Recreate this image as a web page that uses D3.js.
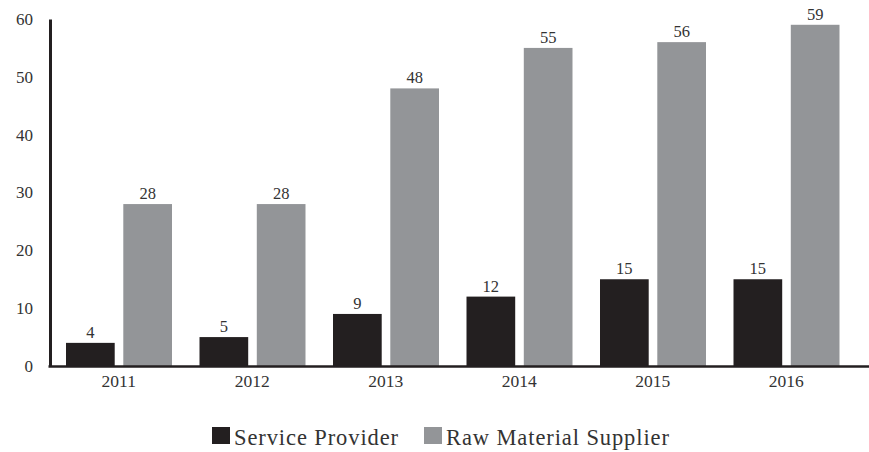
<!DOCTYPE html>
<html><head><meta charset="utf-8">
<script src="https://cdn.jsdelivr.net/npm/d3@7/dist/d3.min.js"></script>
<style>body{margin:0;background:#fff}</style>
</head><body><svg id="c" width="869" height="452"></svg>
<script>
const years = ["2011","2012","2013","2014","2015","2016"];
const seriesNames = ["Service Provider","Raw Material Supplier"];
const serviceProvider = [4,5,9,12,15,15];
const rawMaterialSupplier = [28,28,48,55,56,59];
const yTicks = [0,10,20,30,40,50,60];
const colors = ["#231f20","#939598"];
const FONT = "Liberation Serif";
const TXT = "#333333";

const svg = d3.select("#c");
const x0 = d3.scaleBand().domain(years).range([52,853]).paddingInner(0).paddingOuter(0);
const x1 = d3.scaleBand().domain(seriesNames).range([14,120]).paddingInner(0.15);
const y = d3.scaleLinear().domain([0,60]).range([366,19]);

const data = years.map((yr,i)=>({year:yr, vals:[serviceProvider[i], rawMaterialSupplier[i]]}));

const g = svg.append("g");
const grp = g.selectAll("g.grp").data(data).join("g").attr("transform",d=>`translate(${x0(d.year)},0)`);
grp.selectAll("rect").data(d=>d.vals.map((v,k)=>({k,v}))).join("rect")
  .attr("x",d=>x1(seriesNames[d.k])).attr("width",x1.bandwidth())
  .attr("y",d=>y(d.v)).attr("height",d=>y(0)-y(d.v)).attr("fill",d=>colors[d.k]);
grp.selectAll("text.v").data(d=>d.vals.map((v,k)=>({k,v}))).join("text").attr("class","v")
  .attr("x",d=>x1(seriesNames[d.k])+x1.bandwidth()/2).attr("y",d=>y(d.v)-5)
  .attr("text-anchor","middle").attr("font-size",16.5).attr("font-family",FONT).attr("fill",TXT).text(d=>d.v);

// y axis
const ya = svg.append("g").attr("transform","translate(50,0)")
  .call(d3.axisLeft(y).tickValues(yTicks).tickSize(0).tickPadding(17));
ya.attr("font-family",FONT);
ya.select(".domain").attr("stroke","#231f20").attr("stroke-width",3);
ya.selectAll("text").attr("font-size",17).attr("font-family",FONT).attr("fill",TXT);

// x axis
const xa = svg.append("g").attr("transform",`translate(0,${y(0)})`)
  .call(d3.axisBottom(x0).tickSize(0).tickPadding(9));
xa.attr("font-family",FONT);
xa.select(".domain").remove();
svg.append("line").attr("x1",48.5).attr("x2",869).attr("y1",y(0)+0.5).attr("y2",y(0)+0.5)
  .attr("stroke","#231f20").attr("stroke-width",2.5);
xa.selectAll("text").attr("font-size",17.5).attr("font-family",FONT).attr("fill",TXT);

// legend
const leg = svg.append("g");
const lx = [212,424];
seriesNames.forEach((s,i)=>{
  leg.append("rect").attr("x",lx[i]).attr("y",427).attr("width",18).attr("height",17).attr("fill",colors[i]);
  leg.append("text").attr("x",lx[i]+22).attr("y",445).attr("font-size",22.5).attr("font-family",FONT)
    .attr("letter-spacing",0.9).attr("fill",TXT).text(s);
});
</script></body></html>
